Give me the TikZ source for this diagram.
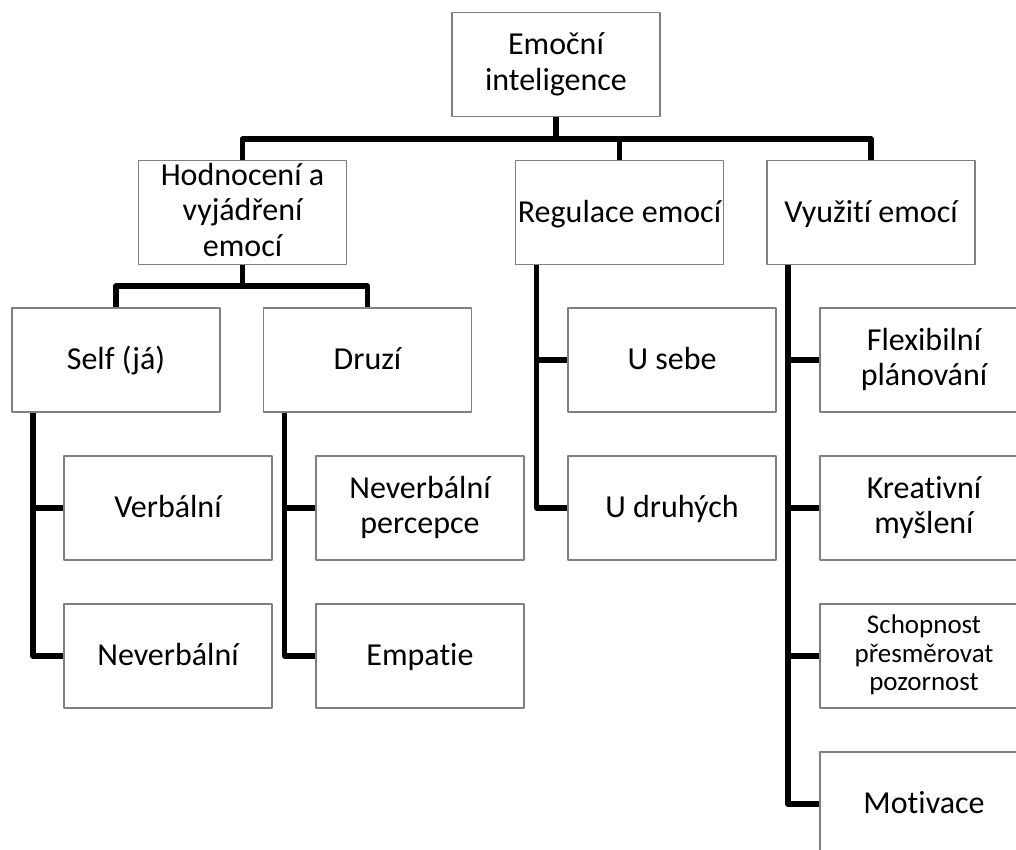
\documentclass[tikz,border=0pt]{standalone}
\usepackage{fontspec}
\setmainfont[Ligatures=NoCommon]{Carlito}
\definecolor{boxgray}{RGB}{128,128,128}
\newcommand{\topstrut}{\rule{0pt}{25pt}}
\newcommand{\botstrut}{\rule[-6pt]{0pt}{6pt}}
\begin{document}
\begin{tikzpicture}[x=1pt,y=-1pt,line join=round,
		box/.style={draw=boxgray,fill=white,line width=1.6pt,minimum width=208pt,minimum height=104pt,inner xsep=2pt,inner ysep=0pt,align=center,font=\fontsize{32}{35.5}\selectfont,
			execute at begin node=\topstrut,execute at end node=\botstrut},
		small/.style={font=\fontsize{27}{28.5}\selectfont},
		conn/.style={line width=5.5pt}]
	\def\tr{22pt}
	\path[use as bounding box] (0,0) rectangle (1016,849);
	\clip (0,0) rectangle (1016,849);
	% boxes
	\node[box] (root) at (556,64.5) {Emoční\\inteligence};
	\node[box] (hodn) at (242.5,212.5) {Hodnocení a\\vyjádření\\emocí};
	\node[box] (regul) at (619.5,212.5) {Regulace emocí};
	\node[box] (vyuz) at (871,212.5) {Využití emocí};
	\node[box] (self) at (116,360) {Self (já)};
	\node[box] (druzi) at (367.5,360) {Druzí};
	\node[box] (verb) at (168,508) {Verbální};
	\node[box] (never) at (168,656) {Neverbální};
	\node[box] (nvperc) at (420,508) {Neverbální\\percepce};
	\node[box] (empat) at (420,656) {Empatie};
	\node[box] (usebe) at (672,360) {U sebe};
	\node[box] (udruh) at (672,508) {U druhých};
	\node[box] (flex) at (924,360) {Flexibilní\\plánování};
	\node[box] (kreat) at (924,508) {Kreativní\\myšlení};
	\node[box,small] (schop) at (924,656) {Schopnost\\přesměrovat\\pozornost};
	\node[box] (motiv) at (924,804) {Motivace};
	% buses
	\coordinate (busA) at (0,139);
	\coordinate (busB) at (0,286);
	\draw[conn] (hodn.north) -- (hodn.north |- busA) -- (vyuz.north |- busA) -- (vyuz.north);
	\draw[conn] (root.south) -- (root.south |- busA);
	\draw[conn] (regul.north) -- (regul.north |- busA);
	\draw[conn] (self.north) -- (self.north |- busB) -- (druzi.north |- busB) -- (druzi.north);
	\draw[conn] (hodn.south) -- (hodn.south |- busB);
	% side trunks
	\foreach \c in {verb,never} \draw[conn] ([xshift=\tr]self.south west) |- (\c.west);
	\foreach \c in {nvperc,empat} \draw[conn] ([xshift=\tr]druzi.south west) |- (\c.west);
	\foreach \c in {usebe,udruh} \draw[conn] ([xshift=\tr]regul.south west) |- (\c.west);
	\foreach \c in {flex,kreat,schop,motiv} \draw[conn] ([xshift=\tr]vyuz.south west) |- (\c.west);
\end{tikzpicture}
\end{document}
